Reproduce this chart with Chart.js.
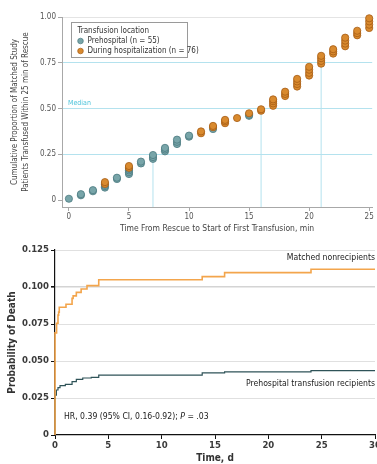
<!DOCTYPE html>
<html>
<head>
<meta charset="utf-8">
<script src="https://cdn.jsdelivr.net/npm/chart.js@4"></script>
<style>
    html, body { margin: 0; padding: 0; background: #fff; overflow: hidden; }
    canvas { display: block; }
</style>
</head>
<body>
<canvas id="topChart" width="377" height="238"></canvas>
<canvas id="bottomChart" width="377" height="226"></canvas>
<script>
// ---- top chart data: cumulative proportion transfused, per minute ----
const minutes = [0, 1, 2, 3, 4, 5, 6, 7, 8, 9, 10, 11, 12, 13, 14, 15, 16, 17, 18, 19, 20, 21, 22, 23, 24, 25];
const prehospitalVals = [
    [0.007], [0.026, 0.032], [0.048, 0.054], [0.068, 0.076, 0.084], [0.115, 0.122],
    [0.142, 0.152, 0.162, 0.170], [0.200, 0.210], [0.225, 0.235, 0.246], [0.266, 0.276, 0.285],
    [0.306, 0.318, 0.330], [0.346, 0.352], [], [0.388], [], [], [0.460, 0.466],
    [], [], [], [], [], [], [], [], [], []
];
const hospitalVals = [
    [], [], [], [0.088, 0.098], [], [0.176, 0.186], [], [], [], [], [],
    [0.365, 0.375], [0.398, 0.405], [0.420, 0.430, 0.438], [0.448], [0.474],
    [0.488, 0.496], [0.515, 0.528, 0.540, 0.550], [0.568, 0.580, 0.592],
    [0.620, 0.634, 0.648, 0.662], [0.680, 0.695, 0.712, 0.728], [0.745, 0.760, 0.775, 0.788],
    [0.800, 0.812, 0.824], [0.840, 0.855, 0.871, 0.887], [0.900, 0.912, 0.925],
    [0.940, 0.958, 0.976, 0.993]
];
const quantileTimes = [7, 16, 21];
const quantileProps = [0.25, 0.50, 0.75];
const topXTicks = [0, 5, 10, 15, 20, 25];
const topYTicks = [0, 0.25, 0.50, 0.75, 1.00];
const legendTitle = 'Transfusion location';
const legendLabels = ['Prehospital (n = 55)', 'During hospitalization (n = 76)'];

// ---- bottom chart data: probability of death over time ----
const nonrecipTime = [0, 0, 0.15, 0.28, 0.34, 0.40, 1.03, 1.6, 1.7, 2.0, 2.45, 3.0, 4.1, 13.8, 15.9, 24.0, 30];
const nonrecipProb = [0, 0.069, 0.0755, 0.081, 0.083, 0.0863, 0.0883, 0.0923, 0.094, 0.0964, 0.0986, 0.1009, 0.1049, 0.107, 0.1097, 0.112, 0.112];
const recipTime = [0, 0, 0.13, 0.28, 0.47, 0.97, 1.6, 2.0, 2.6, 3.4, 4.1, 13.8, 15.9, 24.0, 30];
const recipProb = [0, 0.027, 0.0304, 0.032, 0.0333, 0.0342, 0.036, 0.0376, 0.0385, 0.039, 0.0405, 0.042, 0.0426, 0.0435, 0.0435];
const bottomXTicks = [0, 5, 10, 15, 20, 25, 30];
const bottomYTicks = [0, 0.025, 0.050, 0.075, 0.100, 0.125];

const NARROW = '"Liberation Sans Narrow", "DejaVu Sans Condensed", sans-serif';
const TEAL = '#78a5a9', TEAL_EDGE = '#4b7a80';
const ORANGE = '#d98a2e', ORANGE_EDGE = '#a65c14';
const CYAN_LINE = '#b4e2ee';

const toPoints = (vals) => minutes.flatMap((m, i) => vals[i].map(v => ({ x: m, y: v })));
const quantilePoints = [];
quantileTimes.forEach((t, i) => {
    quantilePoints.push({ x: t, y: -0.04 }, { x: t, y: quantileProps[i] }, { x: NaN, y: NaN });
});

const topExtras = {
    id: 'topExtras',
    afterDraw(chart) {
        const { ctx, chartArea, scales } = chart;
        ctx.save();
        // median label
        ctx.fillStyle = '#4cc3da';
        ctx.font = '7px ' + NARROW;
        ctx.textBaseline = 'bottom';
        ctx.fillText('Median', chartArea.left + 6, scales.y.getPixelForValue(0.5) - 2);
        // legend box
        const bx = chartArea.left + 9.5, by = chartArea.top + 5.5;
        ctx.strokeStyle = '#9a9a9a';
        ctx.lineWidth = 1;
        ctx.strokeRect(bx, by, 116, 35);
        ctx.fillStyle = '#333';
        ctx.font = '8px ' + NARROW;
        ctx.textBaseline = 'middle';
        ctx.fillText(legendTitle, bx + 6, by + 8);
        const fills = [TEAL, ORANGE], edges = [TEAL_EDGE, ORANGE_EDGE];
        legendLabels.forEach((lab, i) => {
            const yy = by + 18.5 + i * 10;
            ctx.beginPath();
            ctx.arc(bx + 9, yy, 2.8, 0, Math.PI * 2);
            ctx.fillStyle = fills[i];
            ctx.fill();
            ctx.strokeStyle = edges[i];
            ctx.lineWidth = 0.7;
            ctx.stroke();
            ctx.fillStyle = '#333';
            ctx.fillText(lab, bx + 16, yy);
        });
        ctx.restore();
    }
};

new Chart(document.getElementById('topChart'), {
    type: 'scatter',
    data: {
        datasets: [
            {
                type: 'line',
                data: quantilePoints,
                borderColor: CYAN_LINE,
                borderWidth: 1,
                pointRadius: 0,
                spanGaps: false,
                order: 3
            },
            {
                label: legendLabels[0],
                data: toPoints(prehospitalVals),
                backgroundColor: TEAL,
                borderColor: TEAL_EDGE,
                borderWidth: 0.8,
                pointRadius: 3.6,
                clip: false,
                order: 2
            },
            {
                label: legendLabels[1],
                data: toPoints(hospitalVals),
                backgroundColor: ORANGE,
                borderColor: ORANGE_EDGE,
                borderWidth: 0.8,
                pointRadius: 3.6,
                clip: false,
                order: 1
            }
        ]
    },
    plugins: [topExtras],
    options: {
        responsive: false,
        animation: false,
        layout: { padding: { top: 17, right: 0, left: 0, bottom: 0 } },
        plugins: { legend: { display: false }, tooltip: { enabled: false } },
        scales: {
            x: {
                type: 'linear',
                min: -0.574,
                max: 25.25,
                afterBuildTicks: s => { s.ticks = topXTicks.map(v => ({ value: v })); },
                afterFit: s => { s.height = 31; s.paddingLeft = 0; s.paddingRight = 0; },
                border: { color: '#a8a8a8', width: 1 },
                grid: { drawOnChartArea: false, tickLength: 4, color: '#a8a8a8', tickColor: '#a8a8a8' },
                ticks: { color: '#555', font: { family: NARROW, size: 8 }, padding: 1, maxRotation: 0 },
                title: {
                    display: true,
                    text: 'Time From Rescue to Start of First Transfusion, min',
                    color: '#444',
                    font: { family: NARROW, size: 8.5 },
                    padding: { top: 1, bottom: 4 }
                }
            },
            y: {
                min: -0.038,
                max: 1.0,
                afterBuildTicks: s => { s.ticks = topYTicks.map(v => ({ value: v })); },
                afterFit: s => { s.width = 62; s.paddingTop = 0; s.paddingBottom = 0; },
                border: { color: '#a8a8a8', width: 1 },
                grid: {
                    tickLength: 4,
                    tickColor: '#a8a8a8',
                    color: c => {
                        const v = c.tick.value;
                        if (v === 0) return 'rgba(0,0,0,0)';
                        return v === 1 ? '#e4e4e4' : CYAN_LINE;
                    }
                },
                ticks: {
                    color: '#555',
                    font: { family: NARROW, size: 8 },
                    padding: 2,
                    callback: v => v === 0 ? '0' : v.toFixed(2)
                },
                title: {
                    display: true,
                    text: ['Cumulative Proportion of Matched Study', 'Patients Transfused Within 25 min of Rescue'],
                    color: '#444',
                    font: { family: NARROW, size: 8, lineHeight: 1.3 },
                    padding: { top: 10, bottom: 0 }
                }
            }
        }
    }
});

const ANNOT_FONT = '8.6px ' + NARROW;
const bottomExtras = {
    id: 'bottomExtras',
    afterDraw(chart) {
        const { ctx, chartArea, scales } = chart;
        ctx.save();
        ctx.fillStyle = '#1a1a1a';
        ctx.font = ANNOT_FONT;
        ctx.textBaseline = 'middle';
        ctx.textAlign = 'right';
        ctx.fillText('Matched nonrecipients', chartArea.right, scales.y.getPixelForValue(0.1198));
        ctx.fillText('Prehospital transfusion recipients', chartArea.right, scales.y.getPixelForValue(0.0345));
        ctx.textAlign = 'left';
        const hx = chartArea.left + 9, hy = scales.y.getPixelForValue(0.0122);
        const part1 = 'HR, 0.39 (95% CI, 0.16-0.92); ';
        ctx.fillText(part1, hx, hy);
        let w = ctx.measureText(part1).width;
        ctx.font = 'italic ' + ANNOT_FONT;
        ctx.fillText('P', hx + w, hy);
        w += ctx.measureText('P').width;
        ctx.font = ANNOT_FONT;
        ctx.fillText(' = .03', hx + w, hy);
        ctx.restore();
    }
};

new Chart(document.getElementById('bottomChart'), {
    type: 'line',
    data: {
        datasets: [
            {
                label: 'Matched nonrecipients',
                data: nonrecipTime.map((t, i) => ({ x: t, y: nonrecipProb[i] })),
                borderColor: '#f3a54c',
                borderWidth: 1.6,
                stepped: true,
                pointRadius: 0,
                clip: false
            },
            {
                label: 'Prehospital transfusion recipients',
                data: recipTime.map((t, i) => ({ x: t, y: recipProb[i] })),
                borderColor: '#2f5358',
                borderWidth: 1.2,
                stepped: true,
                pointRadius: 0,
                clip: false
            }
        ]
    },
    plugins: [bottomExtras],
    options: {
        responsive: false,
        animation: false,
        layout: { padding: { top: 12, right: 2, left: 0, bottom: 0 } },
        plugins: { legend: { display: false }, tooltip: { enabled: false } },
        scales: {
            x: {
                type: 'linear',
                min: 0,
                max: 30,
                afterBuildTicks: s => { s.ticks = bottomXTicks.map(v => ({ value: v })); },
                afterFit: s => { s.height = 29; s.paddingLeft = 0; s.paddingRight = 0; },
                border: { color: '#111', width: 1.2 },
                grid: { drawOnChartArea: false, tickLength: 4, color: '#111', tickColor: '#111' },
                ticks: { color: '#3a3a3a', font: { family: NARROW, size: 9.5, weight: 'bold' }, padding: 1, maxRotation: 0 },
                title: {
                    display: true,
                    text: 'Time, d',
                    color: '#333',
                    font: { family: NARROW, size: 10, weight: 'bold' },
                    padding: { top: 1, bottom: 0 }
                }
            },
            y: {
                min: 0,
                max: 0.125,
                afterBuildTicks: s => { s.ticks = bottomYTicks.map(v => ({ value: v })); },
                afterFit: s => { s.width = 55; s.paddingTop = 0; s.paddingBottom = 0; },
                border: { color: '#111', width: 1.2 },
                grid: {
                    tickLength: 4,
                    tickColor: '#111',
                    color: c => c.tick.value === 0 ? 'rgba(0,0,0,0)' : (c.tick.value === 0.1 ? '#d4d4d4' : '#e0e0e0'),
                    lineWidth: c => c.tick.value === 0.1 ? 1.6 : 1
                },
                ticks: {
                    color: '#3a3a3a',
                    font: { family: NARROW, size: 9.5, weight: 'bold' },
                    padding: 2,
                    callback: v => v === 0 ? '0' : v.toFixed(3)
                },
                title: {
                    display: true,
                    text: 'Probability of Death',
                    color: '#333',
                    font: { family: NARROW, size: 10, weight: 'bold' },
                    padding: { top: 6, bottom: 0 }
                }
            }
        }
    }
});
</script>
</body>
</html>
